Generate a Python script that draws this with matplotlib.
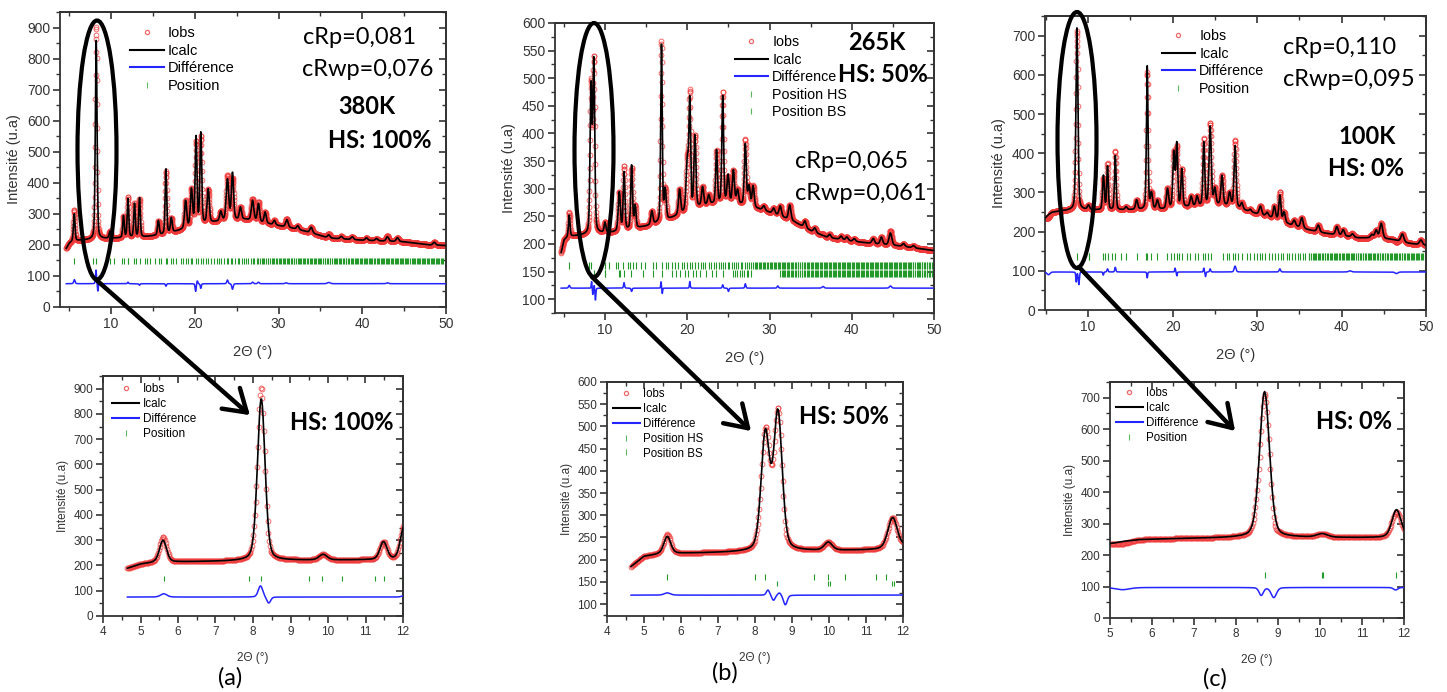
import numpy as np
from matplotlib import pyplot as plt
from matplotlib.patches import Ellipse, FancyArrowPatch
from matplotlib.lines import Line2D
from matplotlib.ticker import MultipleLocator, NullFormatter

plt.rcParams['font.family'] = ['Liberation Sans', 'DejaVu Sans']

# ---- 380K (HS 100%) ----
a_bg_x = [4.6, 5.0, 5.4, 6.0, 8.0, 9.0, 11.0, 14.0, 16.0, 18.0, 20.0, 22.0, 24.0, 26.0, 28.0, 30.0, 32.0, 34.0, 36.0, 40.0, 45.0, 48.0, 50.0]
a_bg_y = [186, 205, 212, 214, 218, 220, 222, 226, 232, 245, 262, 272, 280, 282, 272, 262, 252, 238, 222, 215, 210, 200, 198]
a_pos = [5.60, 8.22, 9.87, 11.48, 12.02, 12.80, 13.40, 15.65, 16.55, 17.20, 18.90, 19.60, 20.15, 20.72, 21.60, 23.10, 23.90, 24.50, 25.45, 26.90,
         27.60, 28.40, 29.50, 31.00, 32.30, 33.90, 36.00, 37.50, 38.80, 40.50, 41.70, 43.00, 44.20, 48.60]
a_amp = [87, 643, 22, 70, 125, 108, 126, 46, 208, 46, 88, 118, 282, 294, 108, 30, 130, 150, 39, 65,
         58, 35, 14, 24, 12, 18, 10, 8, 9, 8, 7, 14, 12, 9]
a_fwhm = [0.22, 0.24, 0.25, 0.22, 0.22, 0.22, 0.22, 0.25, 0.22, 0.25, 0.3, 0.3, 0.25, 0.25, 0.3, 0.3, 0.35, 0.3, 0.3, 0.35,
          0.3, 0.3, 0.3, 0.35, 0.3, 0.35, 0.35, 0.35, 0.35, 0.35, 0.35, 0.35, 0.35, 0.35]
a_mis_pos = [5.62, 8.20, 8.42, 12.02, 13.40, 16.55, 20.10, 20.30, 20.72, 23.90, 24.50, 26.90, 27.60, 30.9, 36.0, 43.0]
a_mis_amp = [13, 45, -25, 5, -5, -8, -25, 10, -15, 12, -18, 5, 5, 3, 4, 3]
a_mis_w = [0.2, 0.14, 0.12, 0.15, 0.15, 0.15, 0.15, 0.15, 0.15, 0.2, 0.2, 0.2, 0.2, 0.3, 0.4, 0.3]
a_diff_offset = 75
a_refl = [5.62, 7.90, 8.22, 9.50, 9.85, 10.38, 11.25, 11.50, 11.97, 12.03, 12.7, 13.0, 13.4, 14.1, 14.3, 14.7, 15.2, 15.7, 16.0, 16.5,
          16.7, 17.2, 17.4, 17.8, 18.3, 18.6, 18.9, 19.2, 19.5, 19.7, 20.1, 20.4, 20.7, 21.0, 21.3, 21.6, 21.9, 22.3, 22.6, 22.9,
          23.1, 23.5, 23.8, 24.0, 24.3, 24.5, 24.8, 25.1, 25.3, 25.6, 25.9, 26.1, 26.4, 26.7, 26.9, 27.1, 27.4, 27.6, 27.8]

# ---- 265K (HS 50%) ----
b_bg_x = [4.65, 5.0, 5.4, 6.0, 8.0, 9.0, 11.0, 13.0, 15.0, 17.0, 19.0, 21.0, 23.0, 25.0, 27.0, 29.0, 31.0, 33.0, 35.0, 37.0, 40.0, 43.0, 46.0, 50.0]
b_bg_y = [184, 207, 212, 214, 217, 219, 221, 226, 232, 240, 252, 265, 272, 273, 270, 262, 252, 240, 224, 212, 205, 200, 196, 188]
b_pos = [5.63, 8.28, 8.62, 9.98, 11.72, 12.30, 13.22, 13.65, 15.68, 16.85, 17.30, 19.05, 20.00, 20.30, 20.92, 21.85, 22.60, 23.55, 24.30, 24.95,
         25.60, 26.10, 27.05, 27.50, 28.00, 29.30, 30.50, 31.30, 32.45, 34.30, 35.50, 37.30, 38.70, 39.40, 40.30, 42.60, 43.60, 44.70, 46.30, 47.50]
b_amp = [39, 262, 308, 18, 70, 105, 115, 40, 24, 320, 55, 45, 90, 190, 130, 34, 17, 96, 195, 50,
         60, 25, 110, 35, 38, 8, 10, 18, 27, 12, 8, 6, 6, 6, 5, 9, 13, 22, 5, 4]
b_fwhm = [0.22, 0.27, 0.27, 0.25, 0.3, 0.25, 0.25, 0.25, 0.3, 0.22, 0.3, 0.3, 0.35, 0.25, 0.28, 0.3, 0.3, 0.25, 0.25, 0.3,
          0.3, 0.3, 0.28, 0.3, 0.3, 0.35, 0.35, 0.35, 0.35, 0.35, 0.35, 0.35, 0.35, 0.35, 0.35, 0.35, 0.35, 0.4, 0.35, 0.35]
b_mis_pos = [5.63, 8.35, 8.50, 8.66, 8.82, 12.30, 13.22, 16.80, 16.95, 20.30, 24.30, 25.00, 27.05, 31.00, 36.5, 44.70]
b_mis_amp = [5, 12, -12, 6, -22, 10, -6, 12, -10, 12, 6, -6, 8, 4, 3, 4]
b_mis_w = [0.2, 0.1, 0.1, 0.1, 0.12, 0.15, 0.15, 0.1, 0.1, 0.12, 0.15, 0.15, 0.15, 0.2, 0.3, 0.3]
b_diff_offset = 120
b_refl_hs = [5.62, 8.00, 8.28, 9.60, 9.97, 10.43, 11.27, 11.55, 12.2, 12.8, 13.0, 13.4, 13.8, 14.3, 14.9, 15.8, 16.2, 16.9, 17.4, 17.7,
             18.1, 18.5, 18.9, 19.3, 19.6, 19.9, 20.3, 20.6, 20.9, 21.3, 21.6, 21.9, 22.2, 22.6, 22.9, 23.2, 23.5, 23.8, 24.1, 24.3,
             24.6, 24.9, 25.1, 25.4, 25.7, 25.9, 26.2, 26.5, 26.7, 27.0, 27.2, 27.5, 27.7]
b_refl_bs = [8.60, 9.97, 10.02, 11.70, 11.75, 12.3, 13.2, 14.6, 15.8, 16.9, 18.1, 18.6, 19.1, 19.7, 20.1, 20.7, 21.1, 21.5, 22.3, 23.0,
             23.5, 24.3, 25.6, 25.8, 26.0, 26.4, 26.7, 26.9, 27.2, 27.4, 27.7]

# ---- 100K (HS 0%) ----
c_bg_x = [4.9, 5.3, 5.7, 6.5, 8.0, 9.5, 11.0, 13.0, 16.0, 19.0, 21.0, 23.0, 25.0, 27.0, 28.5, 30.0, 32.0, 34.0, 36.0, 38.0, 40.0, 42.0, 44.0, 46.0, 48.0, 50.0]
c_bg_y = [234, 243, 249, 252, 255, 256, 255, 255, 256, 257, 262, 265, 268, 266, 255, 245, 234, 217, 205, 196, 190, 184, 184, 180, 170, 165]
c_pos = [8.68, 10.05, 11.82, 12.30, 13.22, 14.50, 15.75, 17.00, 17.50, 18.20, 19.40, 20.15, 20.50, 21.10, 22.20, 22.90, 23.70, 24.45, 25.00, 25.85,
         26.75, 27.40, 28.20, 29.20, 30.40, 31.20, 32.05, 32.70, 33.20, 34.40, 35.30, 37.25, 39.45, 40.20, 41.30, 43.60, 44.10, 44.70, 47.20, 49.40]
c_amp = [464, 11, 87, 110, 138, 7, 24, 365, 40, 22, 50, 140, 160, 95, 25, 24, 160, 200, 40, 75,
         32, 155, 15, 6, 22, 10, 30, 64, 25, 14, 26, 17, 21, 15, 8, 8, 19, 38, 20, 12]
c_fwhm = [0.28, 0.3, 0.25, 0.22, 0.22, 0.3, 0.3, 0.22, 0.3, 0.3, 0.3, 0.28, 0.25, 0.25, 0.3, 0.3, 0.25, 0.3, 0.3, 0.3,
          0.3, 0.28, 0.3, 0.3, 0.35, 0.35, 0.3, 0.28, 0.3, 0.35, 0.35, 0.35, 0.35, 0.35, 0.35, 0.35, 0.35, 0.4, 0.4, 0.4]
c_mis_pos = [5.3, 8.60, 8.90, 11.80, 12.30, 13.22, 17.00, 20.30, 20.50, 23.70, 23.90, 24.45, 27.40, 32.70, 41.0, 46.5]
c_mis_amp = [-7, -25, -32, -8, 8, 12, -15, 10, -10, 10, -12, 8, 15, 8, 3, -4]
c_mis_w = [0.4, 0.12, 0.15, 0.12, 0.15, 0.15, 0.12, 0.12, 0.12, 0.12, 0.12, 0.15, 0.25, 0.2, 0.4, 0.4]
c_diff_offset = 97
c_refl = [8.68, 10.05, 10.08, 11.80, 12.0, 12.3, 12.8, 13.2, 13.9, 14.5, 15.8, 16.8, 17.0, 17.4, 18.1, 19.4, 19.8, 20.2, 20.5, 20.8,
          21.1, 21.7, 22.1, 22.6, 23.0, 23.6, 23.8, 24.2, 24.6, 26.0, 26.4, 26.7, 27.1, 27.4, 27.8, 28.2, 28.8, 29.2, 29.6, 30.0,
          30.3, 30.6, 31.0, 31.4, 31.8, 32.1, 32.5, 32.8, 33.1, 33.5, 33.8, 34.1, 34.5, 34.8, 35.1, 35.4, 35.7]

# high angle reflections, dense (shared)
refl_high = [28.0, 28.2, 28.3, 28.5, 28.7, 28.8, 29.0, 29.2, 29.3, 29.5, 29.7, 29.8, 30.0, 30.2, 30.3, 30.5, 30.6, 30.8, 31.0, 31.1,
             31.3, 31.5, 31.6, 31.8, 31.9, 32.1, 32.3, 32.4, 32.6, 32.7, 32.9, 33.1, 33.2, 33.4, 33.5, 33.7, 33.9, 34.0, 34.2, 34.3,
             34.5, 34.7, 34.8, 35.0, 35.1, 35.3, 35.5, 35.6, 35.8, 35.9, 36.1, 36.2, 36.4, 36.6, 36.7, 36.9, 37.0, 37.2, 37.3, 37.5,
             37.7, 37.8, 38.0, 38.1, 38.3, 38.4, 38.6, 38.8, 38.9, 39.1, 39.2, 39.4, 39.5, 39.7, 39.8, 40.0, 40.2, 40.3, 40.5, 40.6,
             40.8, 40.9, 41.1, 41.2, 41.4, 41.5, 41.7, 41.9, 42.0, 42.2, 42.3, 42.5, 42.6, 42.8, 42.9, 43.1, 43.2, 43.4, 43.5, 43.7,
             43.9, 44.0, 44.2, 44.3, 44.5, 44.6, 44.8, 44.9, 45.1, 45.2, 45.4, 45.5, 45.7, 45.9, 46.0, 46.2, 46.3, 46.5, 46.6, 46.8,
             46.9, 47.1, 47.2, 47.4, 47.5, 47.7, 47.9, 48.0, 48.2, 48.3, 48.5, 48.6, 48.8, 48.9, 49.1, 49.2, 49.4, 49.5, 49.7, 49.9]

RED = '#f03a3a'
GREEN = '#23992a'
BLUE = '#2424ff'

W, H = 1447, 692
fig = plt.figure(figsize=(W / 100, H / 100), dpi=100)


def fx(x, y):
    return (x / W, 1 - y / H)


def box(l, r, t, b):
    return [l / W, 1 - b / H, (r - l) / W, (b - t) / H]


def peaks(x, pos, amp, fwhm):
    y = np.zeros_like(x)
    for p, a, w in zip(pos, amp, fwhm):
        d = (x - p) / w
        y += a * (0.7 * np.exp(-4 * np.log(2) * d ** 2) + 0.3 / (1 + 4 * d ** 2))
    return y


def pattern(x, bgx, bgy, pos, amp, fwhm):
    return np.interp(x, bgx, bgy) + peaks(x, pos, amp, fwhm)


# calc / obs / diff for each temperature
x_a = np.arange(4.65, 50.001, 0.02)
calc_a = pattern(x_a, a_bg_x, a_bg_y, a_pos, a_amp, a_fwhm)
mis_a = peaks(x_a, a_mis_pos, a_mis_amp, a_mis_w)
x_b = np.arange(4.65, 50.001, 0.02)
calc_b = pattern(x_b, b_bg_x, b_bg_y, b_pos, b_amp, b_fwhm)
mis_b = peaks(x_b, b_mis_pos, b_mis_amp, b_mis_w)
x_c = np.arange(4.9, 50.001, 0.02)
calc_c = pattern(x_c, c_bg_x, c_bg_y, c_pos, c_amp, c_fwhm)
mis_c = peaks(x_c, c_mis_pos, c_mis_amp, c_mis_w)


def style(ax, xlim, ylim, xmaj, ymaj, fs):
    ax.set_xlim(xlim)
    ax.set_ylim(ylim)
    for s in ax.spines.values():
        s.set_linewidth(1.3)
        s.set_color('#333333')
    ax.xaxis.set_major_locator(MultipleLocator(xmaj))
    ax.xaxis.set_minor_locator(MultipleLocator(xmaj / 2))
    ax.yaxis.set_major_locator(MultipleLocator(ymaj))
    ax.yaxis.set_minor_locator(MultipleLocator(ymaj / 2))
    ax.tick_params(which='both', direction='out', labelsize=fs, labelcolor='#333333', color='#333333', pad=2)
    ax.tick_params(which='major', length=5, width=1.2)
    ax.tick_params(which='minor', length=3, width=1)
    top = ax.secondary_xaxis('top')
    right = ax.secondary_yaxis('right')
    top.xaxis.set_major_locator(MultipleLocator(xmaj))
    top.xaxis.set_minor_locator(MultipleLocator(xmaj / 2))
    right.yaxis.set_major_locator(MultipleLocator(ymaj))
    right.yaxis.set_minor_locator(MultipleLocator(ymaj / 2))
    for sec, axis in ((top, top.xaxis), (right, right.yaxis)):
        axis.set_major_formatter(NullFormatter())
        sec.tick_params(which='both', direction='in', color='#333333')
        sec.tick_params(which='major', length=5, width=1.2)
        sec.tick_params(which='minor', length=3, width=1)
        for s in sec.spines.values():
            s.set_linewidth(1.3)
            s.set_color('#333333')


def draw(ax, x, calc, mis, offset, rows):
    ax.plot(x, calc + mis, 'o', ls='none', ms=3.5, mfc='none', mec=RED, mew=0.6, alpha=0.85, zorder=2)
    ax.plot(x, calc, color='black', lw=1.2, zorder=3)
    ax.plot(x, offset + mis, color=BLUE, lw=1.1, zorder=3)
    for refl, y0, y1 in rows:
        ax.vlines(refl, y0, y1, color=GREEN, lw=0.8, zorder=2)


def legend(ax, n_pos, labels, x, y, fs, spacing, hlen):
    h = [Line2D([], [], marker='o', ls='none', ms=3, mfc='none', mec='#f06868', mew=0.9),
         Line2D([], [], color='black', lw=1.5),
         Line2D([], [], color=BLUE, lw=1.5)]
    h += [Line2D([], [], marker='|', ls='none', ms=5, color='#5cb85c', mec='#5cb85c', mew=0.8) for _ in range(n_pos)]
    ax.legend(h, labels, loc='upper left', bbox_to_anchor=fx(x, y), bbox_transform=fig.transFigure,
              frameon=False, fontsize=fs, labelspacing=spacing, handlelength=hlen, handletextpad=0.3,
              borderpad=0, borderaxespad=0)


lab1 = ['Iobs', 'Icalc', 'Différence', 'Position']
lab2 = ['Iobs', 'Icalc', 'Différence', 'Position HS', 'Position BS']

rows_a = [(a_refl + refl_high, 137, 158)]
rows_b = [(b_refl_hs + refl_high, 155, 168), (b_refl_bs + refl_high[20:], 140, 152)]
rows_c = [(c_refl + refl_high[50:], 128, 145)]

# top row
ax = fig.add_axes(box(60, 446, 12, 307))
draw(ax, x_a, calc_a, mis_a, a_diff_offset, rows_a)
style(ax, (3.9, 50), (0, 950), 10, 100, 10)
legend(ax, 1, lab1, 130, 26, 10.5, 0.25, 2.3)
ax.set_xlabel('2Θ (°)', fontsize=10.5, color='#333333', labelpad=10)
ax.set_ylabel('Intensité (u.a)', fontsize=10.5, color='#333333', labelpad=4)

ax = fig.add_axes(box(555, 934, 23, 313))
draw(ax, x_b, calc_b, mis_b, b_diff_offset, rows_b)
style(ax, (3.9, 50), (75, 600), 10, 50, 10)
legend(ax, 2, lab2, 735, 35, 10.3, 0.25, 2.3)
ax.set_xlabel('2Θ (°)', fontsize=10.5, color='#333333', labelpad=10)
ax.set_ylabel('Intensité (u.a)', fontsize=10.5, color='#333333', labelpad=4)

ax = fig.add_axes(box(1045, 1426, 16, 310))
draw(ax, x_c, calc_c, mis_c, c_diff_offset, rows_c)
style(ax, (4.9, 50), (0, 750), 10, 100, 10)
legend(ax, 1, lab1, 1162, 29, 10.3, 0.25, 2.3)
ax.set_xlabel('2Θ (°)', fontsize=10.5, color='#333333', labelpad=10)
ax.set_ylabel('Intensité (u.a)', fontsize=10.5, color='#333333', labelpad=4)

# bottom row (zoom on the first peaks)
ax = fig.add_axes(box(103, 403, 376, 616))
draw(ax, x_a, calc_a, mis_a, a_diff_offset, rows_a)
style(ax, (4, 12), (0, 950), 1, 100, 8.5)
legend(ax, 1, lab1, 112, 383, 8.5, 0.25, 2.3)
ax.set_xlabel('2Θ (°)', fontsize=8.5, color='#333333', labelpad=10)
ax.set_ylabel('Intensité (u.a)', fontsize=8.5, color='#333333', labelpad=3)

ax = fig.add_axes(box(607, 903, 382, 616))
draw(ax, x_b, calc_b, mis_b, b_diff_offset, rows_b)
style(ax, (4, 12), (73, 600), 1, 50, 8.5)
legend(ax, 2, lab2, 613, 388, 8.3, 0.25, 2.3)
ax.set_xlabel('2Θ (°)', fontsize=8.5, color='#333333', labelpad=10)
ax.set_ylabel('Intensité (u.a)', fontsize=8.5, color='#333333', labelpad=3)

ax = fig.add_axes(box(1110, 1404, 382, 618))
draw(ax, x_c, calc_c, mis_c, c_diff_offset, rows_c)
style(ax, (5, 12), (0, 750), 1, 100, 8.5)
legend(ax, 1, lab1, 1116, 387, 8.3, 0.25, 2.3)
ax.set_xlabel('2Θ (°)', fontsize=8.5, color='#333333', labelpad=10)
ax.set_ylabel('Intensité (u.a)', fontsize=8.5, color='#333333', labelpad=3)

# annotations
big = ['Lato', 'DejaVu Sans']
notes = [('cRp=0,081', 359, 37, 'normal'), ('cRwp=0,076', 368, 70, 'normal'),
         ('380K', 367, 107, 'bold'), ('HS: 100%', 380, 140, 'bold'),
         ('265K', 877, 43, 'bold'), ('HS: 50%', 883, 75, 'bold'),
         ('cRp=0,065', 852, 162, 'normal'), ('cRwp=0,061', 861, 194, 'normal'),
         ('cRp=0,110', 1340, 47, 'normal'), ('cRwp=0,095', 1349, 79, 'normal'),
         ('100K', 1367, 137, 'bold'), ('HS: 0%', 1366, 169, 'bold'),
         ('HS: 100%', 342, 422, 'bold'), ('HS: 50%', 844, 416, 'bold'), ('HS: 0%', 1354, 421, 'bold')]
for s, x, y, w in notes:
    fig.text(*fx(x, y), s, ha='center', va='center', fontsize=17, fontweight=w, family=big, zorder=20)

for s, x, y in [('(a)', 230, 678), ('(b)', 725, 673), ('(c)', 1215, 679)]:
    fig.text(*fx(x, y), s, ha='center', va='center', fontsize=17, family=big)

# ellipses around the first peaks and arrows to the zooms
for cx, cy, h in [(97, 150, 259), (594, 150, 254), (1077, 140, 256)]:
    fig.add_artist(Ellipse(fx(cx, cy), 39 / W, h / H, transform=fig.transFigure,
                           fill=False, lw=3, color='black', zorder=30))
for p0, p1 in [((93, 277), (252, 417)), ((590, 275), (753, 433)), ((1077, 265), (1237, 433))]:
    fig.add_artist(FancyArrowPatch(fx(*p0), fx(*p1), transform=fig.transFigure,
                                   arrowstyle='->,head_length=0.7,head_width=0.45', mutation_scale=22,
                                   lw=3.2, color='black', zorder=30))

fig.savefig('out.png', dpi=100)
